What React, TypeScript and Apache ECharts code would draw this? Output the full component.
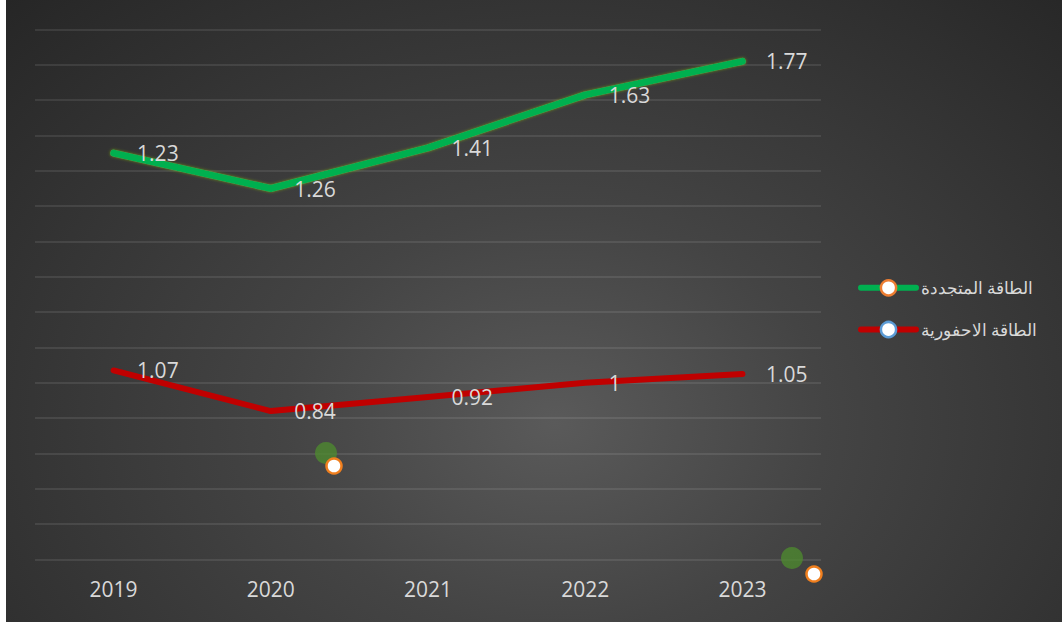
import React, { useEffect, useRef } from 'react';
import * as echarts from 'echarts';

const years = ['2019', '2020', '2021', '2022', '2023'];
const renewable = [1.23, 1.26, 1.41, 1.63, 1.77];
const fossil = [1.07, 0.84, 0.92, 1, 1.05];
const renewableName = 'الطاقة المتجددة';
const fossilName = 'الطاقة الاحفورية';

const GREEN = '#00b050';
const RED = '#c00000';
const TEXT = '#d9d9d9';
const FONT = 'Open Sans';

export default function App() {
  const ref = useRef<HTMLDivElement>(null);
  useEffect(() => {
    const chart = echarts.init(ref.current!, null, { renderer: 'svg' });
    const label = {
      show: true,
      position: 'right',
      distance: 23,
      offset: [0, 0],
      color: TEXT,
      fontSize: 21,
      fontFamily: FONT,
    };
    chart.setOption({
      animation: false,
      grid: { left: 29, right: 241, top: 29.5, bottom: 62.5 },
      xAxis: {
        type: 'category',
        data: years,
        boundaryGap: true,
        axisLine: { show: false },
        axisTick: { show: false },
        axisLabel: { color: TEXT, fontSize: 21, fontFamily: FONT, margin: 19 },
        splitLine: { show: false },
      },
      yAxis: {
        type: 'value',
        min: 0,
        max: 3,
        interval: 0.2,
        axisLabel: { show: false },
        axisLine: { show: false },
        axisTick: { show: false },
        splitLine: { lineStyle: { color: 'rgba(255,255,255,0.09)', width: 2 } },
      },
      legend: {
        orient: 'vertical',
        left: 847,
        top: 274,
        itemWidth: 55,
        itemHeight: 19,
        itemGap: 24,
        textStyle: { color: TEXT, fontSize: 17, fontFamily: FONT },
        data: [
          {
            name: renewableName,
            itemStyle: { color: '#ffffff', borderColor: '#ed7d31', borderWidth: 2.5 },
            lineStyle: { color: GREEN, width: 6 },
          },
          {
            name: fossilName,
            itemStyle: { color: '#ffffff', borderColor: '#5b9bd5', borderWidth: 2.5 },
            lineStyle: { color: RED, width: 6 },
          },
        ],
      },
      series: [
        {
          name: fossilName,
          type: 'line',
          stack: 'total',
          data: fossil,
          symbol: 'circle',
          symbolSize: 1,
          itemStyle: { color: 'rgba(0,0,0,0)' },
          lineStyle: { color: RED, width: 6, cap: 'round', join: 'round' },
          label,
        },
        {
          name: renewableName,
          type: 'line',
          stack: 'total',
          data: renewable,
          symbol: 'circle',
          symbolSize: 1,
          itemStyle: { color: 'rgba(0,0,0,0)' },
          lineStyle: {
            color: GREEN,
            width: 7,
            cap: 'round',
            join: 'round',
            shadowColor: 'rgba(140,200,0,0.6)',
            shadowBlur: 3,
          },
          label,
        },
      ],
      graphic: [
        { type: 'circle', shape: { cx: 320, cy: 453, r: 11 }, style: { fill: 'rgba(78,140,45,0.75)' }, z: 100 },
        { type: 'circle', shape: { cx: 328, cy: 466, r: 7.5 }, style: { fill: '#ffffff', stroke: '#f07f1e', lineWidth: 2.5 }, z: 101 },
        { type: 'circle', shape: { cx: 786, cy: 558, r: 11 }, style: { fill: 'rgba(78,140,45,0.75)' }, z: 100 },
        { type: 'circle', shape: { cx: 808, cy: 574, r: 7.5 }, style: { fill: '#ffffff', stroke: '#f07f1e', lineWidth: 2.5 }, z: 101 },
      ],
    });
    return () => chart.dispose();
  }, []);
  return (
    <div
      ref={ref}
      style={{
        position: 'absolute',
        left: 6,
        top: 0,
        width: 1056,
        height: 622,
        background: 'radial-gradient(ellipse at 52% 68%, #5a5a5a 0%, #444444 35%, #262626 100%)',
      }}
    />
  );
}
